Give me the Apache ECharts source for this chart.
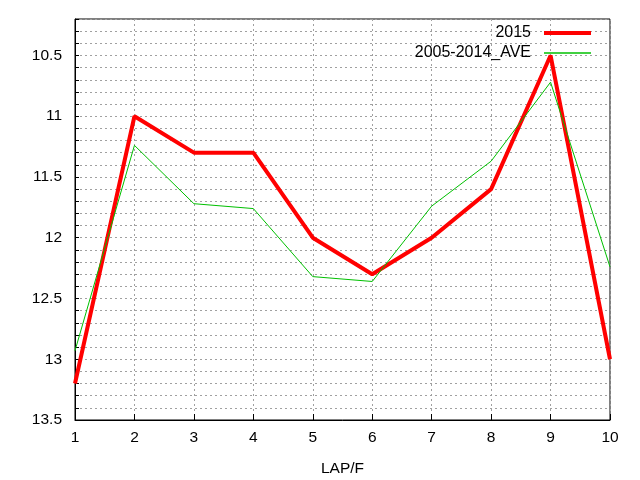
<!DOCTYPE html>
<html>
<head>
<meta charset="utf-8">
<script src="https://cdn.jsdelivr.net/npm/echarts@6/dist/echarts.min.js"></script>
<style>
html,body{margin:0;padding:0;background:#fff;}
#chart{width:640px;height:480px;}
</style>
</head>
<body>
<div id="chart"></div>
<script>
var laps = ['1', '2', '3', '4', '5', '6', '7', '8', '9', '10'];
var seriesNames = ['2015', '2005-2014_AVE'];
var values2015 = [13.2, 11.0, 11.3, 11.3, 12.0, 12.3, 12.0, 11.6, 10.5, 13.0];
var valuesAve = [12.93, 11.24, 11.72, 11.76, 12.32, 12.36, 11.74, 11.37, 10.72, 12.24];
var yMin = 10.2, yMax = 13.5, yStep = 0.1; // labels only every 0.5

var font = 'Liberation Sans, Arial, sans-serif';
var myChart = echarts.init(document.getElementById('chart'));

var option = {
    animation: false,
    backgroundColor: '#fff',
    grid: {
        left: 75,
        right: 30,
        top: 19,
        bottom: 60,
        outerBoundsMode: 'none',
        containLabel: false,
        show: true,
        borderColor: '#000',
        borderWidth: 1
    },
    legend: [
        {
            data: [seriesNames[0]],
            right: 49,
            top: 25,
            padding: 0,
            align: 'right',
            icon: 'rect',
            itemWidth: 47,
            itemHeight: 4,
            textStyle: { fontFamily: font, fontSize: 16, color: '#000', padding: [0, 8, 0, 0] }
        },
        {
            data: [seriesNames[1]],
            right: 49,
            top: 45,
            padding: 0,
            align: 'right',
            icon: 'rect',
            itemWidth: 47,
            itemHeight: 1.5,
            textStyle: { fontFamily: font, fontSize: 16, color: '#000', padding: [0, 8, 0, 0] }
        }
    ],
    xAxis: {
        type: 'category',
        data: laps,
        boundaryGap: false,
        name: 'LAP/F',
        nameLocation: 'middle',
        nameGap: 41,
        nameTextStyle: { fontFamily: font, fontSize: 15.5, color: '#000' },
        axisLine: { lineStyle: { color: '#000', width: 1 } },
        axisTick: { show: true, inside: true, length: 6, lineStyle: { color: '#000' } },
        axisLabel: { fontFamily: font, fontSize: 15.5, color: '#000', margin: 10 },
        splitLine: { show: true, lineStyle: { color: '#a0a0a0', type: [2, 3], width: 1 } }
    },
    yAxis: {
        type: 'value',
        inverse: true,
        min: yMin,
        max: yMax,
        interval: yStep,
        axisLine: { show: true, lineStyle: { color: '#000', width: 1 } },
        axisTick: { show: true, inside: true, length: 4, lineStyle: { color: '#000' } },
        axisLabel: {
            fontFamily: font,
            fontSize: 15.5,
            color: '#000',
            margin: 13,
            formatter: function(value) {
                var v = Math.round(value * 10) / 10;
                if (Math.round(v * 10) % 5 === 0) {
                    return String(v);
                }
                return '';
            }
        },
        splitLine: { show: true, lineStyle: { color: '#a0a0a0', type: [2, 3], width: 1 } }
    },
    series: [
        {
            name: seriesNames[0],
            type: 'line',
            data: values2015,
            symbol: 'none',
            color: '#ff0000',
            lineStyle: { color: '#ff0000', width: 4 }
        },
        {
            name: seriesNames[1],
            type: 'line',
            data: valuesAve,
            symbol: 'none',
            color: '#00c000',
            lineStyle: { color: '#00c000', width: 1 }
        }
    ]
};

myChart.setOption(option);
</script>
</body>
</html>
